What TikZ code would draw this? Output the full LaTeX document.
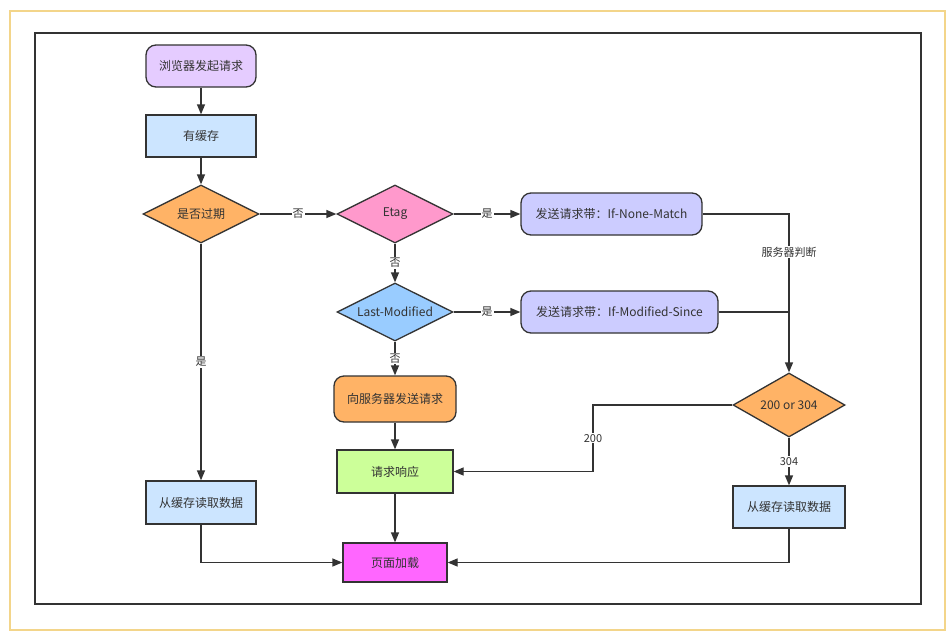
\documentclass[tikz,border=0pt]{standalone}
\usepackage{fontspec}
\setmainfont{Noto Sans CJK SC}
\usetikzlibrary{shapes.geometric,arrows.meta}
\definecolor{ln}{HTML}{333333}
\definecolor{txt}{HTML}{333333}
\definecolor{yel}{HTML}{F3D58A}
\definecolor{cpur}{HTML}{E5CCFF}
\definecolor{cblu}{HTML}{CCE5FF}
\definecolor{cora}{HTML}{FFB366}
\definecolor{cpink}{HTML}{FF99CC}
\definecolor{clav}{HTML}{CCCCFF}
\definecolor{csky}{HTML}{99CCFF}
\definecolor{cgrn}{HTML}{CCFF99}
\definecolor{cmag}{HTML}{FF66FF}
\begin{document}
\begin{tikzpicture}[x=1pt,y=-1pt,
  every node/.style={font=\fontsize{12}{14}\selectfont, text=txt},
  box/.style={draw=ln, line width=1.3pt, minimum width=110pt, minimum height=42pt, inner sep=0pt},
  rbox/.style={box, rounded corners=10pt},
  dia/.style={draw=ln, line width=1.3pt, diamond, shape aspect=2, minimum width=116pt, minimum height=58pt, inner sep=0pt},
  arr/.style={draw=ln, line width=1.3pt, -{Triangle[length=10pt,width=8pt]}},
  seg/.style={draw=ln, line width=1.3pt},
  lbl/.style={fill=white, inner sep=1pt, font=\fontsize{11}{13}\selectfont}
]
\useasboundingbox (0,0) rectangle (952,637);
\fill[white] (0,0) rectangle (952,637);
\draw[yel, line width=2.5pt] (10,11) rectangle (945,630);
\draw[ln, line width=1.8pt] (35,33) rectangle (921,604);

\node[rbox, fill=cpur] (start) at (201,66) {浏览器发起请求};
\node[box, fill=cblu] (hc) at (201,136) {有缓存};
\node[dia, fill=cora] (exp) at (201,214) {是否过期};
\node[dia, fill=cpink] (etag) at (395,214) {Etag};
\node[rbox, fill=clav, minimum width=181pt] (inm) at (611.5,214) {发送请求带：If-None-Match};
\node[dia, fill=csky] (lm) at (395,312) {Last-Modified};
\node[rbox, fill=clav, minimum width=197pt] (ims) at (619.5,312) {发送请求带：If-Modified-Since};
\node[rbox, fill=cora, minimum width=122pt, minimum height=46pt] (srv) at (395,399) {向服务器发送请求};
\node[box, fill=cgrn, minimum width=116pt, minimum height=43pt] (resp) at (395,471.5) {请求响应};
\node[box, fill=cmag, minimum width=104pt, minimum height=39pt] (load) at (395,562.5) {页面加载};
\node[box, fill=cblu, minimum height=43pt] (cl) at (201,502.5) {从缓存读取数据};
\node[dia, fill=cora, minimum width=112pt, minimum height=64pt] (sc) at (789,405) {200 or 304};
\node[box, fill=cblu, minimum width=112pt] (cr) at (789,507) {从缓存读取数据};

\coordinate (j1) at (789,214);
\coordinate (j2) at (789,312);
\coordinate (k1) at (593,405);
\coordinate (k2) at (593,471.5);

\draw[arr] (start) -- (hc);
\draw[arr] (hc) -- (exp);
\draw[arr] (exp) -- node[lbl]{否} (etag);
\draw[arr] (etag) -- node[lbl]{是} (inm);
\draw[arr] (etag) -- node[lbl]{否} (lm);
\draw[arr] (lm) -- node[lbl]{是} (ims);
\draw[arr] (lm) -- node[lbl]{否} (srv);
\draw[arr] (exp) -- node[lbl]{是} (cl);
\draw[arr] (srv) -- (resp);
\draw[arr] (resp) -- (load);
\draw[arr] (cl.south) |- (load.west);
\draw[arr] (cr.south) |- (load.east);
\draw[arr] (sc) -- node[lbl]{304} (cr);
\draw[arr] (sc.west) -- (k1) -- node[lbl]{200} (k2) -- (resp.east);
\draw[arr] (inm.east) -- (j1) -- node[lbl, pos=0.24]{服务器判断} (sc.north);
\draw[seg] (ims.east) -- (j2);
\end{tikzpicture}
\end{document}
